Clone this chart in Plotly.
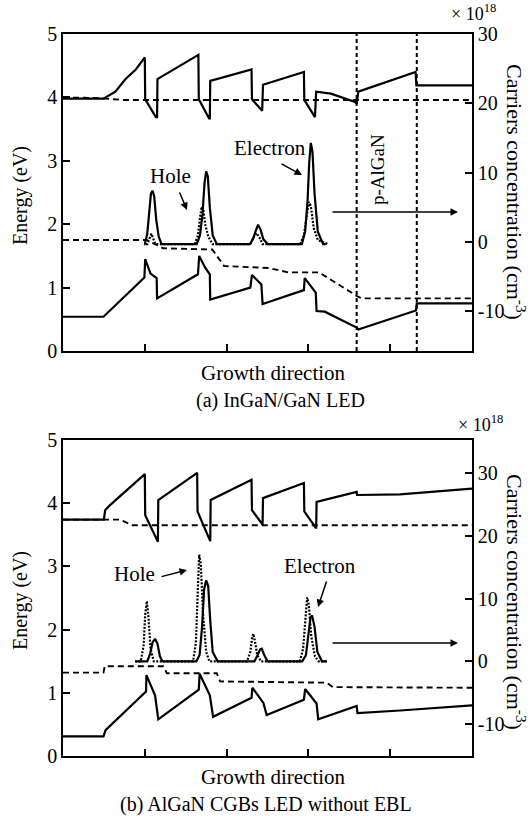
import plotly.graph_objects as go

# ---------------- data (panel a: InGaN/GaN LED) ----------------
a_cb_x = [0, 9.9, 12.8, 15.3, 17.8, 19.9, 20.0, 20.1, 22.7, 23.0, 23.1, 33.1, 33.2, 35.7, 35.9, 36.0,
          46.1, 46.2, 48.7, 48.9, 58.9, 59.0, 61.6, 61.9, 65.5, 71.4, 71.8, 72.2, 86.2, 86.4, 100]
a_cb_e = [3.98, 3.98, 4.09, 4.29, 4.44, 4.62, 4.63, 3.97, 3.69, 3.69, 4.29, 4.67, 3.97, 3.67, 3.67, 4.26,
          4.44, 3.97, 3.79, 4.20, 4.40, 3.96, 3.69, 4.09, 4.06, 3.93, 3.90, 4.09, 4.40, 4.19, 4.19]
a_efn_x = [0, 8, 15, 100]
a_efn_e = [4.00, 3.99, 3.96, 3.96]
a_vb_x = [0, 9.9, 19.9, 20.1, 21.4, 22.9, 23.0, 33.0, 33.3, 34.8, 35.9, 36.0, 45.8, 46.2, 48.5, 48.8,
          58.9, 59.1, 61.8, 62.0, 64.0, 71.8, 72.2, 86.3, 86.5, 100]
a_vb_e = [0.54, 0.54, 1.16, 1.45, 1.22, 1.15, 0.83, 1.21, 1.50, 1.31, 1.21, 0.81, 1.00, 1.20, 1.05, 0.74,
          0.96, 1.15, 0.92, 0.63, 0.62, 0.37, 0.34, 0.64, 0.75, 0.75]
a_efp_x = [0, 20.5, 24.5, 36.5, 39.4, 50.2, 55.1, 62.6, 71.8, 73.0, 100]
a_efp_e = [1.75, 1.75, 1.62, 1.60, 1.34, 1.31, 1.24, 1.24, 0.87, 0.83, 0.83]
a_elec_x = [19.8, 20.0, 20.6, 21.1, 21.5, 21.9, 22.3, 22.8, 23.4, 24.1, 32.7, 33.5, 34.1, 34.6, 35.0,
            35.4, 35.9, 36.6, 37.6, 45.7, 46.5, 47.1, 47.7, 48.3, 49.0, 50.1, 58.4, 59.2, 59.8, 60.2,
            60.6, 61.0, 61.5, 62.3, 63.6, 64.2]
a_elec_n = [-0.3, -0.3, 1.2, 4.5, 7.0, 7.4, 6.6, 3.2, 0.8, -0.3, -0.3, 1.0, 4.0, 8.5, 10.2,
            9.5, 5.0, 1.0, -0.3, -0.3, 0.5, 1.6, 2.5, 1.8, 0.4, -0.3, -0.3, 1.5, 6.0, 11.5,
            14.3, 13.0, 7.0, 1.5, -0.3, -0.3]
a_hole_x = [20.3, 20.6, 21.2, 21.6, 22.0, 22.6, 32.2, 33.0, 33.5, 33.9, 34.3, 34.8, 35.5, 36.6,
            45.8, 46.6, 47.3, 48.0, 48.8, 58.0, 58.9, 59.6, 60.1, 60.6, 61.3, 62.3, 64.8]
a_hole_n = [-0.3, -0.3, 0.6, 1.2, 0.6, -0.3, -0.3, 1.0, 3.5, 5.1, 4.6, 2.5, 0.8, -0.3,
            -0.3, 0.7, 1.3, 0.7, -0.3, -0.3, 1.0, 4.0, 5.8, 5.2, 2.0, 0.3, -0.3]
a_pAlGaN_bounds = [71.8, 86.5]

# ---------------- data (panel b: AlGaN CGBs LED without EBL) ----------------
b_cb_x = [0, 10.0, 10.3, 11.5, 20.0, 20.1, 23.2, 23.3, 32.8, 32.9, 36.0, 36.1, 46.1, 46.2, 48.8, 48.9,
          58.9, 59.0, 61.9, 62.0, 71.8, 71.9, 82.4, 100]
b_cb_e = [3.74, 3.74, 3.89, 3.97, 4.46, 3.81, 3.39, 4.05, 4.48, 3.87, 3.40, 4.05, 4.37, 3.89, 3.66, 4.08,
          4.32, 3.87, 3.60, 4.02, 4.18, 4.13, 4.14, 4.23]
b_efn_x = [0, 14, 17, 100]
b_efn_e = [3.74, 3.74, 3.65, 3.65]
b_vb_x = [0, 9.9, 10.4, 20.3, 20.4, 22.5, 23.3, 33.2, 33.4, 35.9, 36.7, 46.1, 46.3, 49.0, 49.8,
          58.9, 59.2, 62.0, 62.4, 71.8, 72.0, 82.4, 100]
b_vb_e = [0.31, 0.31, 0.41, 1.02, 1.28, 0.96, 0.58, 1.05, 1.30, 0.96, 0.62, 0.92, 1.08, 0.84, 0.65,
          0.89, 1.06, 0.83, 0.58, 0.79, 0.68, 0.72, 0.80]
b_efp_x = [0, 9.9, 10.2, 24.5, 25.4, 37.6, 38.4, 64.5, 66.0, 100]
b_efp_e = [1.32, 1.32, 1.42, 1.42, 1.31, 1.31, 1.18, 1.16, 1.09, 1.08]
b_elec_x = [17.6, 20.6, 21.3, 21.9, 22.5, 23.1, 23.7, 24.3, 32.6, 33.4, 34.0, 34.5, 35.0, 35.5, 36.0,
            36.6, 37.8, 46.8, 47.6, 48.2, 48.6, 49.2, 50.0, 58.5, 59.4, 60.0, 60.5, 60.9, 61.5, 62.2,
            63.3, 64.5]
b_elec_n = [0, 0, 1.2, 3.0, 3.6, 2.8, 0.8, 0, 0, 1.0, 5.5, 11.5, 12.9, 12.0, 6.5,
            1.5, 0, 0, 1.0, 1.9, 2.0, 1.0, 0, 0, 1.0, 4.5, 7.0, 7.3, 5.5, 1.5,
            0, 0]
b_hole_x = [17.6, 19.0, 19.7, 20.1, 20.5, 20.9, 21.4, 22.2, 31.8, 32.5, 33.0, 33.3, 33.7, 34.2, 35.0,
            35.8, 45.0, 45.8, 46.2, 46.5, 46.9, 47.5, 48.4, 57.9, 58.7, 59.3, 59.7, 60.1, 60.7, 61.6,
            62.5, 64.8]
b_hole_n = [0, 0, 2.5, 7.5, 9.6, 7.0, 2.0, 0, 0, 3.0, 12.0, 17.0, 15.5, 8.0, 1.5,
            0, 0, 1.5, 3.5, 4.4, 3.3, 1.0, 0, 0, 2.0, 7.5, 10.2, 9.0, 4.0, 0.8,
            0, 0]

energy_ticks = [0, 1, 2, 3, 4, 5]
conc_ticks = [-10, 0, 10, 20, 30]
conc_ticktext = ["-10", "0", "10", "20", "30"]
x_ticks = [20, 40, 60, 80]

# ---------------- layout helpers ----------------
W, H = 532, 816
L, R = 63, 472
FONT = "Liberation Serif, Times New Roman, serif"


def px(x):
    return (x - L) / (R - L)


def py(y):
    return 1 - y / H


dom_a = [py(351), py(34)]
dom_b = [py(756), py(440)]

solid = dict(color="black", width=2.2)
dashed = dict(color="black", width=1.9, dash="6px,4px")
dotted = dict(color="black", width=2.2, dash="2px,1.5px")

fig = go.Figure()


def add(xs, ys, xa, ya, line):
    fig.add_trace(go.Scatter(x=xs, y=ys, xaxis=xa, yaxis=ya, mode="lines", line=line,
                             showlegend=False, hoverinfo="skip"))


add(a_cb_x, a_cb_e, "x", "y", solid)
add(a_efn_x, a_efn_e, "x", "y", dashed)
add(a_vb_x, a_vb_e, "x", "y", solid)
add(a_efp_x, a_efp_e, "x", "y", dashed)
add(a_hole_x, a_hole_n, "x", "y2", dotted)
add(a_elec_x, a_elec_n, "x", "y2", solid)

add(b_cb_x, b_cb_e, "x2", "y3", solid)
add(b_efn_x, b_efn_e, "x2", "y3", dashed)
add(b_vb_x, b_vb_e, "x2", "y3", solid)
add(b_efp_x, b_efp_e, "x2", "y3", dashed)
add(b_hole_x, b_hole_n, "x2", "y4", dotted)
add(b_elec_x, b_elec_n, "x2", "y4", solid)

axis_common = dict(showline=True, linecolor="black", linewidth=1.5, ticks="inside",
                   ticklen=7, tickwidth=1.5, tickcolor="black", showgrid=False,
                   zeroline=False, automargin=False,
                   tickfont=dict(family=FONT, size=20, color="black"))

xcommon = dict(axis_common, range=[0, 100], tickvals=x_ticks, showticklabels=False, mirror=True)

fig.update_layout(
    width=W, height=H,
    margin=dict(l=L, r=W - R, t=0, b=0),
    paper_bgcolor="white", plot_bgcolor="white",
    font=dict(family=FONT, color="black"),
    xaxis=dict(xcommon, domain=[0, 1], anchor="y"),
    yaxis=dict(axis_common, domain=dom_a, range=[0, 5], tickvals=energy_ticks, anchor="x"),
    yaxis2=dict(axis_common, overlaying="y", side="right", anchor="x", range=[-15.7, 30],
                tickvals=conc_ticks, ticktext=conc_ticktext),
    xaxis2=dict(xcommon, domain=[0, 1], anchor="y3"),
    yaxis3=dict(axis_common, domain=dom_b, range=[0, 5], tickvals=energy_ticks, anchor="x2"),
    yaxis4=dict(axis_common, overlaying="y3", side="right", anchor="x2", range=[-15.1, 35.3],
                tickvals=conc_ticks, ticktext=conc_ticktext),
)

# p-AlGaN boundaries
for xb in a_pAlGaN_bounds:
    fig.add_shape(type="line", xref="x", yref="y domain", x0=xb, x1=xb, y0=0, y1=1,
                  line=dict(color="black", width=2, dash="4px,3px"))

ann = []


def text(t, x, y, size=19, angle=0):
    ann.append(dict(text=t, x=px(x), y=py(y), xref="paper", yref="paper", showarrow=False,
                    textangle=angle, font=dict(family=FONT, size=size, color="black"),
                    xanchor="center", yanchor="middle"))


def arrow(hx, hy, tx, ty):
    ann.append(dict(text="", x=px(hx), y=py(hy), xref="paper", yref="paper", showarrow=True,
                    ax=tx - hx, ay=ty - hy, axref="pixel", ayref="pixel",
                    arrowhead=2, arrowsize=1, arrowwidth=1.5, arrowcolor="black", standoff=0))


# panel a
text("× 10<sup>18</sup>", 474, 13, 18)
text("Energy (eV)", 20, 196, 20, -90)
text("Carriers concentration (cm<sup>-3</sup>)", 516, 192, 22, 90)
text("Growth direction", 273, 373, 21)
text("(a) InGaN/GaN LED", 280, 400, 20)
text("p-AlGaN", 377, 170, 19, -90)
text("Hole", 170, 176, 21)
text("Electron", 270, 148, 21)
arrow(458, 212, 331, 212)
arrow(187, 210, 179, 191)
arrow(302, 175, 280, 163)

# panel b
text("× 10<sup>18</sup>", 480, 423, 18)
text("Energy (eV)", 20, 601, 20, -90)
text("Carriers concentration (cm<sup>-3</sup>)", 516, 602, 22, 90)
text("Growth direction", 273, 777, 21)
text("(b) AlGaN CGBs LED without EBL", 266, 804, 20)
text("Hole", 134, 574, 21)
text("Electron", 320, 566, 21)
arrow(458, 643, 331, 643)
arrow(187, 570, 160, 577)
arrow(318, 607, 327, 580)

fig.update_layout(annotations=ann)

fig.write_html("out.html")
